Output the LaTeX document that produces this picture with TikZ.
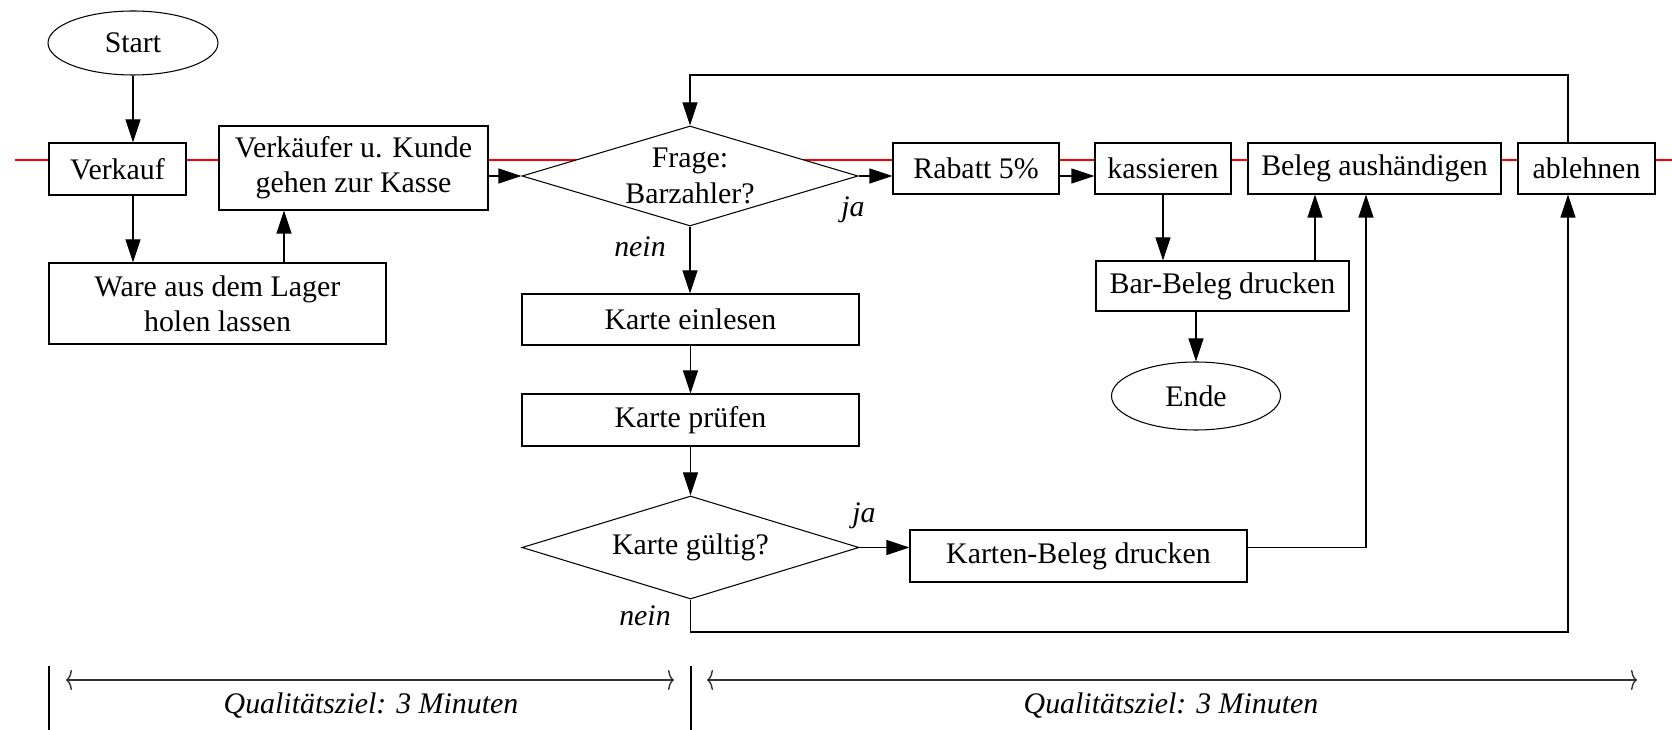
\documentclass[tikz,border=0pt]{standalone}
\usepackage{fontspec}
\setmainfont{Liberation Serif}
\usetikzlibrary{arrows.meta,shapes.geometric}

\tikzset{
  proc/.style={draw, fill=white, line width=0.6pt, align=center, inner sep=1pt},
  term/.style={draw, fill=white, ellipse, line width=0.6pt, inner sep=0pt},
  query/.style={draw, fill=white, diamond, shape aspect=3.36, line width=0.6pt, align=center,
    inner ysep=0pt, inner xsep=-0.15cm},
  flow/.style={line width=0.6pt, -{Triangle[length=0.46cm,width=0.3cm]}},
  link/.style={line width=0.6pt},
  span/.style={line width=0.8pt, black!80, {To[length=0.12cm,width=0.4cm]}-{To[length=0.12cm,width=0.4cm]}},
  answer/.style={font=\fontsize{17}{20}\selectfont\itshape},
}

\begin{document}
\begin{tikzpicture}[font=\fontsize{17}{20}\selectfont]
  \useasboundingbox (0,0) rectangle (33.44,14.6);
  % rote Linie hinter den Kaesten
  \draw[red, line width=1pt] (0.3,11.4) -- (33.44,11.4);

  % Kaesten
  \node[term, minimum width=3.4cm, minimum height=1.28cm] (start) at (2.66,13.74) {Start};
  \node[proc, minimum width=2.74cm, minimum height=1.04cm] (verkauf) at (2.35,11.22) {Verkauf};
  \node[proc, minimum width=5.38cm, minimum height=1.68cm] (kasse) at (7.07,11.24) {Verkäufer u. Kunde\\gehen zur Kasse};
  \node[proc, minimum width=6.74cm, minimum height=1.62cm] (lager) at (4.35,8.53) {Ware aus dem Lager\\holen lassen};
  \node[query, minimum width=6.72cm, minimum height=2cm] (bar) at (13.8,11.08) {Frage:\\Barzahler?};
  \node[proc, minimum width=3.32cm, minimum height=1.02cm] (rabatt) at (19.52,11.23) {Rabatt 5\%};
  \node[proc, minimum width=2.72cm, minimum height=1.02cm] (kassieren) at (23.26,11.23) {kassieren};
  \node[proc, minimum width=5.06cm, minimum height=1.02cm] (beleg) at (27.49,11.23) {Beleg aushändigen};
  \node[proc, minimum width=2.74cm, minimum height=1.02cm] (ablehnen) at (31.73,11.23) {ablehnen};
  \node[proc, minimum width=5.06cm, minimum height=1cm] (barbeleg) at (24.45,8.88) {Bar-Beleg drucken};
  \node[term, minimum width=3.38cm, minimum height=1.36cm] (ende) at (23.92,6.68) {Ende};
  \node[proc, minimum width=6.74cm, minimum height=1.02cm] (einlesen) at (13.81,8.21) {Karte einlesen};
  \node[proc, minimum width=6.74cm, minimum height=1.04cm] (pruefen) at (13.81,6.2) {Karte prüfen};
  \node[query, minimum width=6.74cm, minimum height=2.06cm] (gueltig) at (13.81,3.65) {Karte gültig?};
  \node[proc, minimum width=6.74cm, minimum height=1.04cm] (karten) at (21.57,3.48) {Karten-Beleg drucken};

  % Hilfspunkte fuer die Pfeile
  \coordinate (lagerpfeil) at (5.68,0);
  \coordinate (barpfeil) at (26.3,0);
  \coordinate (kartenpfeil) at (27.32,0);
  \coordinate (ablehnpfeil) at (31.36,0);
  \coordinate (oben) at (0,13.1);
  \coordinate (unten) at (0,1.96);

  % Pfeile
  \draw[flow] (start) -- (verkauf.north -| start);
  \draw[flow] (verkauf.south -| start) -- (lager.north -| start);
  \draw[flow] (lager.north -| lagerpfeil) -- (kasse.south -| lagerpfeil);
  \draw[flow] (kasse.east |- bar.west) -- (bar.west);
  \draw[flow] (bar.east) -- (rabatt.west |- bar.east);
  \draw[flow] (rabatt.east |- bar.east) -- (kassieren.west |- bar.east);
  \draw[flow] (kassieren) -- (kassieren.south |- barbeleg.north);
  \draw[flow] (barbeleg.north -| barpfeil) -- (beleg.south -| barpfeil);
  \draw[flow] (barbeleg.south -| ende) -- (ende);
  \draw[flow] (bar.south) -- (einlesen.north -| bar.south);
  \draw[flow] (einlesen) -- (pruefen);
  \draw[flow] (pruefen) -- (gueltig);
  \draw[flow] (gueltig.east) -- (karten.west |- gueltig.east);
  \draw[flow] (karten.east |- gueltig.east) -| (beleg.south -| kartenpfeil);
  \draw[flow] (gueltig.south) |- (unten -| ablehnpfeil) -- (ablehnen.south -| ablehnpfeil);
  \draw[flow] (ablehnen.north -| ablehnpfeil) |- (oben -| bar.north) -- (bar.north);

  % ja / nein
  \node[answer] (ja1) at (17.06,10.4) {ja};
  \node[answer] (nein1) at (12.8,9.66) {nein};
  \node[answer] (ja2) at (17.28,4.28) {ja};
  \node[answer] (nein2) at (12.9,2.28) {nein};

  % Zeitvorgaben unten
  \draw[link] (0.98,1.28) -- (0.98,0);
  \draw[link] (13.82,1.28) -- (13.82,0);
  \draw[span] (1.32,1) -- (13.48,1);
  \draw[span] (14.14,1) -- (32.74,1);
  \node[answer] (ziel1) at (7.42,0.48) {Qualitätsziel: 3 Minuten};
  \node[answer] (ziel2) at (23.42,0.48) {Qualitätsziel: 3 Minuten};
\end{tikzpicture}
\end{document}
